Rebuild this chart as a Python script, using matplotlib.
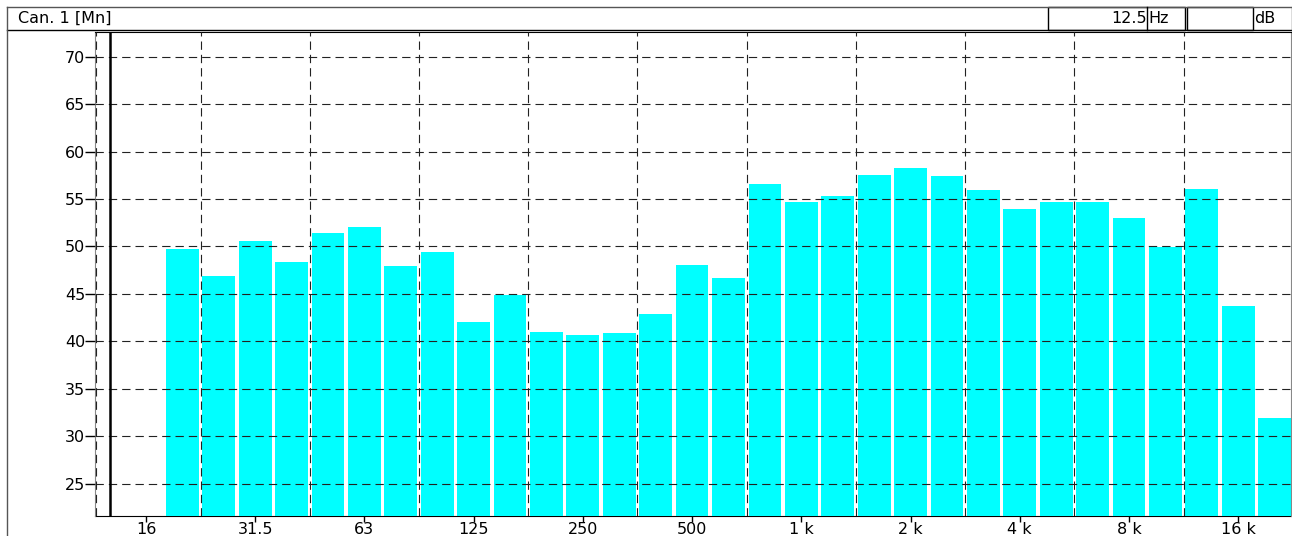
import numpy as np
import matplotlib
matplotlib.use("Agg")
import matplotlib.pyplot as plt
from matplotlib.patches import Rectangle
from matplotlib.lines import Line2D

plt.rcParams["font.family"] = ["DejaVu Sans"]

# 1/3 octave bands, index 0 = 16 Hz
BANDS = ["20", "25", "31.5", "40", "50", "63", "80", "100", "125", "160",
         "200", "250", "315", "400", "500", "630", "800", "1k", "1.25k", "1.6k",
         "2k", "2.5k", "3.15k", "4k", "5k", "6.3k", "8k", "10k", "12.5k", "16k", "20k"]
LEVELS = [49.7, 46.9, 50.6, 48.4, 51.4, 52.1, 47.9, 49.4, 42.0, 44.9,
          41.0, 40.7, 40.9, 42.9, 48.1, 46.7, 56.6, 54.7, 55.3, 57.5,
          58.3, 57.4, 56.0, 54.0, 54.7, 54.7, 53.0, 49.9, 56.1, 43.7, 31.9]
TICK_LABELS = ["16", "31.5", "63", "125", "250", "500", "1 k", "2 k", "4 k", "8 k", "16 k"]
Y_TICKS = [25, 30, 35, 40, 45, 50, 55, 60, 65, 70]
CURSOR_IDX = -1          # 12.5 Hz
CURSOR_TEXT = "12.5"
CHANNEL = "Can. 1 [Mn]"

W, H = 1292, 536
FS = 11.5
fig = plt.figure(figsize=(W / 100, H / 100), dpi=100)


def fx(px):
    return px / W


def fy(py):
    return 1 - py / H


ax = fig.add_axes([fx(95), fy(516), fx(1291) - fx(95), fy(32) - fy(516)])

x = np.arange(1, len(LEVELS) + 1)
ax.bar(x, LEVELS, width=0.9, color="#00FFFF", zorder=1)

ax.set_xlim(-1.4, 31.45)
ax.set_ylim(21.6, 72.6)

dash = (7.5, 4.5)
for yv in Y_TICKS:
    ax.axhline(yv, color="#222222", lw=0.8, dashes=dash, zorder=3)
for xv in np.arange(1.5, 30, 3):
    ax.axvline(xv, color="#222222", lw=0.8, dashes=dash, zorder=3)
ax.axvline(-1.36, color="#222222", lw=0.8, dashes=dash, zorder=3)
ax.axvline(CURSOR_IDX, color="black", lw=1.8, zorder=4)

ax.set_xticks(np.arange(0, 31, 3))
ax.set_xticklabels(TICK_LABELS)
ax.set_yticks(Y_TICKS)
ax.tick_params(axis="x", direction="out", length=4, width=1, labelsize=FS, pad=0)
ax.tick_params(axis="y", direction="out", length=7, width=1, labelsize=FS, pad=0)

for side in ["left", "right"]:
    ax.spines[side].set_color("#888888")
for side in ["top", "bottom"]:
    ax.spines[side].set_color("black")
ax.spines["bottom"].set_zorder(0.5)

# header bar
lw = 1.0
fig.add_artist(Line2D([fx(7), fx(1292)], [fy(7), fy(7)], color="#555555", lw=lw))
fig.add_artist(Line2D([fx(7), fx(1292)], [fy(29.5), fy(29.5)], color="black", lw=lw))
fig.add_artist(Line2D([fx(7), fx(7)], [fy(7), 0], color="#555555", lw=lw))
fig.add_artist(Line2D([fx(1291.5), fx(1291.5)], [fy(7), fy(29.5)], color="#555555", lw=lw))
for x0, x1 in [(1048, 1185), (1187, 1253)]:
    fig.add_artist(Rectangle((fx(x0), fy(29.5)), fx(x1) - fx(x0), fy(7) - fy(29.5),
                             fill=False, ec="black", lw=lw))
fig.add_artist(Line2D([fx(1147), fx(1147)], [fy(7), fy(29.5)], color="black", lw=lw))

fig.text(fx(18), fy(18.5), CHANNEL, ha="left", va="center", fontsize=FS)
fig.text(fx(1147), fy(18.5), CURSOR_TEXT, ha="right", va="center", fontsize=FS)
fig.text(fx(1148), fy(18.5), "Hz", ha="left", va="center", fontsize=FS)
fig.text(fx(1254), fy(18.5), "dB", ha="left", va="center", fontsize=FS)

fig.savefig("out.png", dpi=100)
